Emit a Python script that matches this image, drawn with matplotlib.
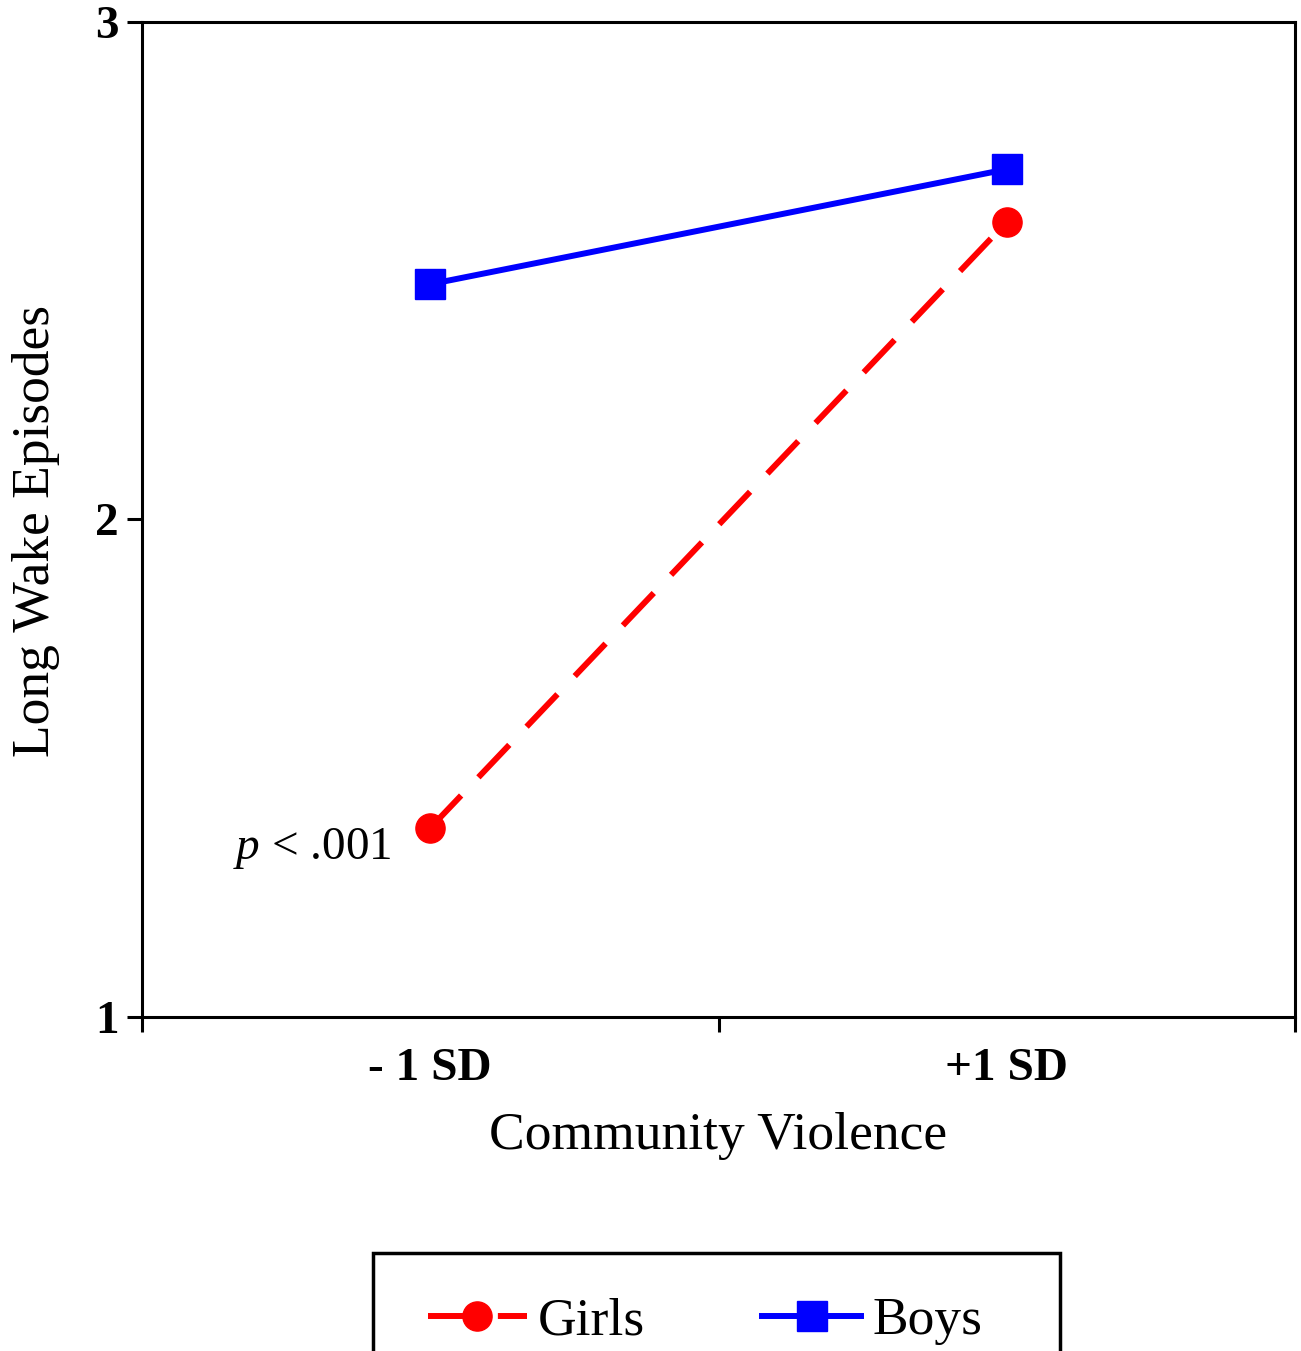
import matplotlib
matplotlib.use("Agg")
import matplotlib.pyplot as plt
from matplotlib.patches import Rectangle

x_labels = ["- 1 SD", "+1 SD"]
x_pos = [1, 3]
girls = [1.38, 2.598]
boys = [2.473, 2.704]
y_ticks = [1, 2, 3]

plt.rcParams['font.family'] = ['Liberation Serif', 'DejaVu Serif']
plt.rcParams['mathtext.fontset'] = 'custom'
plt.rcParams['mathtext.it'] = 'Liberation Serif:italic'
plt.rcParams['mathtext.rm'] = 'Liberation Serif'

fig = plt.figure(figsize=(13.01, 13.51), dpi=100)
ax = fig.add_axes([142/1301, 1-1017/1351, (1295-142)/1301, (1017-22)/1351])

lw = 4.3
g, = ax.plot(x_pos, girls, color='#ff0000', lw=lw, marker='o', ms=21,
             dashes=(7.5, 4.2), label='Girls', clip_on=False)
b, = ax.plot(x_pos, boys, color='#0000ff', lw=lw, marker='s', ms=21,
             label='Boys', clip_on=False)

ax.set_xlim(0, 4)
ax.set_ylim(1, 3)
ax.set_xticks([0, 2, 4])
ax.set_xticklabels([])
ax.set_xticks(x_pos, minor=True)
ax.set_xticklabels(x_labels, minor=True, fontsize=34, fontweight='bold')
ax.tick_params(axis='x', which='minor', length=0, pad=22)
ax.tick_params(axis='x', which='major', length=11, width=2.2, direction='out')
ax.set_yticks(y_ticks)
ax.set_yticklabels([str(t) for t in y_ticks], fontsize=34, fontweight='bold')
ax.tick_params(axis='y', length=11, width=2.2, direction='out', pad=6)
for s in ax.spines.values():
    s.set_linewidth(2.2)

ax.set_xlabel("Community Violence", fontsize=38.5, labelpad=16)
ax.set_ylabel("Long Wake Episodes", fontsize=38.5)
ax.yaxis.set_label_coords(-0.071, 0.488)

ax.text(0.867, 1.338, "$p$ < .001", fontsize=34, ha='right', va='center')

fig.patches.append(Rectangle((373/1301, -0.01), 687/1301, 1-1253/1351 + 0.01,
                             transform=fig.transFigure, fill=False,
                             edgecolor='black', lw=2.5))

leg = fig.legend(handles=[g, b], labels=['Girls', 'Boys'], loc='center left',
                 bbox_to_anchor=(428/1301, 1-1321/1351),
                 ncol=2, fontsize=38.5, frameon=False,
                 borderpad=0, handlelength=1.85, handletextpad=0.2,
                 columnspacing=2.2, borderaxespad=0)

fig.savefig("out.png", dpi=100)
